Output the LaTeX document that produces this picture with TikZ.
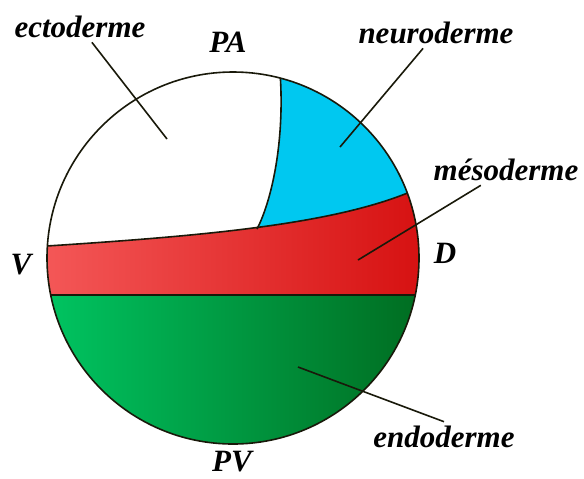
\documentclass[tikz,border=0pt]{standalone}
\usepackage{fontspec}
\setmainfont{Liberation Serif}
\usetikzlibrary{positioning}
\definecolor{neuroblue}{RGB}{0,200,240}
\definecolor{mesolight}{RGB}{245,90,90}
\definecolor{mesodark}{RGB}{212,12,12}
\definecolor{endolight}{RGB}{0,200,100}
\definecolor{endomid}{RGB}{0,160,70}
\definecolor{endodark}{RGB}{0,105,30}
\definecolor{outline}{RGB}{25,25,10}
\tikzset{
  tissue/.style={font=\fontsize{15.5}{18}\selectfont\bfseries\itshape,
    inner sep=2pt},
  leader/.style={line width=0.8pt, color=outline},
  border/.style={line width=0.8pt, draw=outline}
}

\begin{document}
\begin{tikzpicture}[x=0.5pt, y=-0.5pt]
  \useasboundingbox (0,0) rectangle (584,478);
  \coordinate (c) at (233,258);

  % layers of the egg, cut to the sphere
  \begin{scope}
    \clip (c) circle [radius=186];
    \fill[white] (c) circle [radius=186];
    \fill[neuroblue] (281,40) -- (280,72) .. controls (285,140) and (272,200) .. (257,229)
      -- (257,270) -- (450,270) -- (450,40) -- cycle;
    \shade[left color=mesolight, right color=mesodark]
      (30,247) -- (47,246) .. controls (200,236) and (330,225) .. (410,192)
      -- (450,176) -- (450,295) -- (30,295) -- cycle;
    \shade[left color=endolight, middle color=endomid, right color=endodark]
      (30,295) rectangle (436,460);
    \draw[border] (30,247) -- (47,246) .. controls (200,236) and (330,225) .. (410,192) -- (450,176);
    \draw[border] (30,295) -- (450,295);
    \draw[border] (281,40) -- (280,72) .. controls (285,140) and (272,200) .. (257,229);
  \end{scope}
  \draw[border] (c) circle [radius=186];

  % names
  \node[tissue] (ecto) at (80,27) {ectoderme};
  \node[tissue] (neuro) at (436,33) {neuroderme};
  \node[tissue] (meso) at (506,170) {mésoderme};
  \node[tissue] (endo) at (444,437) {endoderme};
  \node[tissue] (pa) at (228,42) {PA};
  \node[tissue] (pv) at (232,462) {PV};
  \node[tissue] (v) at (21,265) {V};
  \node[tissue] (d) at (445,253) {D};

  \coordinate (ecto-in) at (167,139);
  \coordinate (neuro-in) at (340,147);
  \coordinate (meso-in) at (358,260);
  \coordinate (endo-in) at (298,367);

  \draw[leader] (ecto) -- (ecto-in);
  \draw[leader] (neuro) -- (neuro-in);
  \draw[leader] (meso) -- (meso-in);
  \draw[leader] (endo.north) -- (endo-in);
\end{tikzpicture}
\end{document}
